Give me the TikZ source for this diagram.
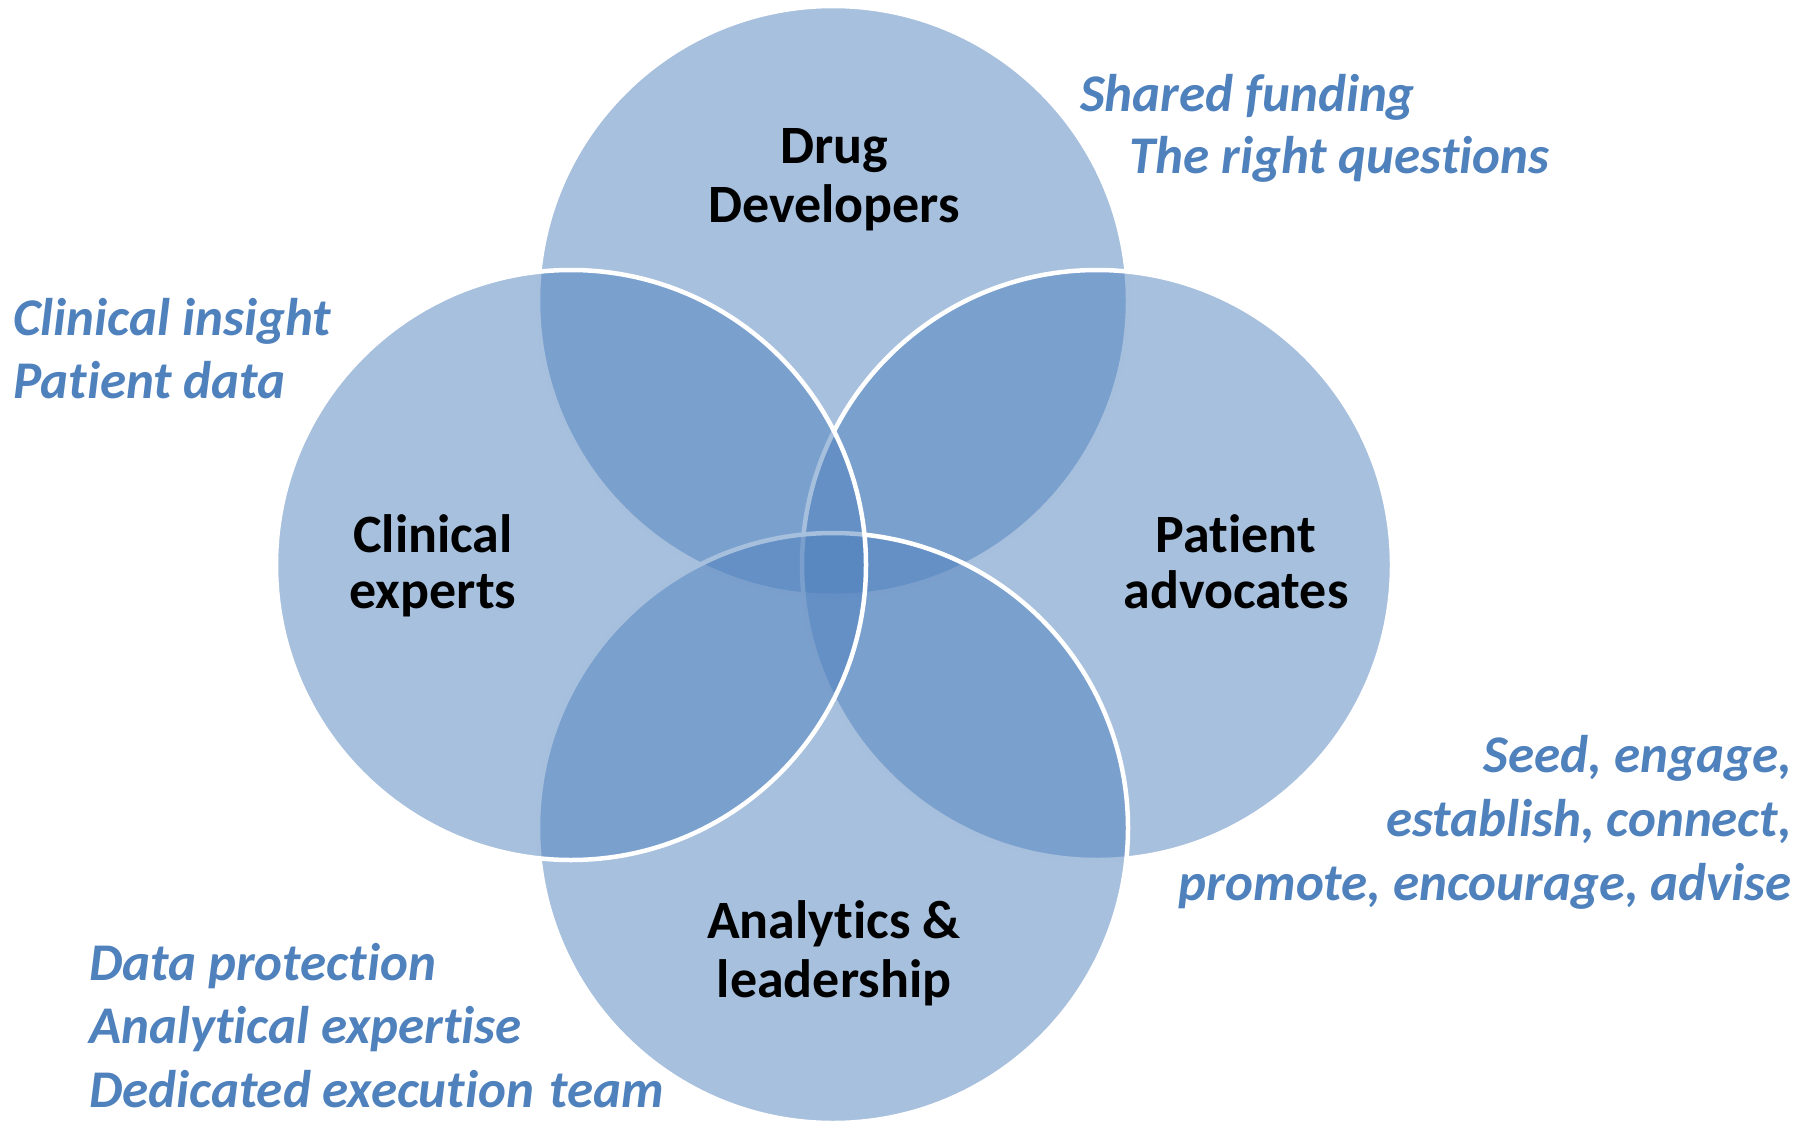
\documentclass[tikz,border=0pt]{standalone}
\usepackage{fontspec}
\setmainfont{Carlito}[RawFeature={-liga}]
\definecolor{vennblue}{HTML}{4F81BD}
\definecolor{noteblue}{HTML}{4F81BD}
\tikzset{
  venn/.style={fill=vennblue, fill opacity=0.5, draw=white, draw opacity=1, line width=4.5pt},
  lbl/.style={font=\fontsize{54}{58}\selectfont\bfseries, text=black, inner sep=0pt, anchor=base},
  note/.style={font=\fontsize{53}{63}\selectfont\bfseries\itshape, text=noteblue, inner sep=0pt},
  notel/.style={note, anchor=base west},
  noter/.style={note, anchor=base east}
}
\begin{document}
\begin{tikzpicture}[x=1pt,y=-1pt]
\useasboundingbox (0,0) rectangle (1815,1121);
% circles (drawing order: top, right, bottom, left)
\path[venn] (833,301) circle[radius=295pt];
\path[venn] (1097,565) circle[radius=295pt];
\path[venn] (833,828) circle[radius=295pt];
\path[venn] (571,565) circle[radius=295pt];
% circle labels
\node[lbl] (dd1) at (834,164) {Drug};
\node[lbl] (dd2) at (834,222) {Developers};
\node[lbl] (ce1) at (433,552) {Clinical};
\node[lbl] (ce2) at (433,608) {experts};
\node[lbl] (pa1) at (1236,552) {Patient};
\node[lbl] (pa2) at (1236,608) {advocates};
\node[lbl] (al1) at (834,938) {Analytics \&};
\node[lbl] (al2) at (834,997) {leadership};
% notes
\node[notel] (n1) at (1080,112) {Shared funding};
\node[notel] (n2) at (1129,174) {The right questions};
\node[notel] (n3) at (13,335) {Clinical insight};
\node[notel] (n4) at (13,398) {Patient data};
\node[noter] (n5) at (1792,772) {Seed, engage,};
\node[noter] (n6) at (1792,836) {establish, connect,};
\node[noter] (n7) at (1792,900) {promote, encourage, advise};
\node[notel] (n8) at (89,980) {Data protection};
\node[notel] (n9) at (89,1043) {Analytical expertise};
\node[notel] (n10) at (89,1107) {Dedicated execution\hspace{0.3em}team};
\end{tikzpicture}
\end{document}
